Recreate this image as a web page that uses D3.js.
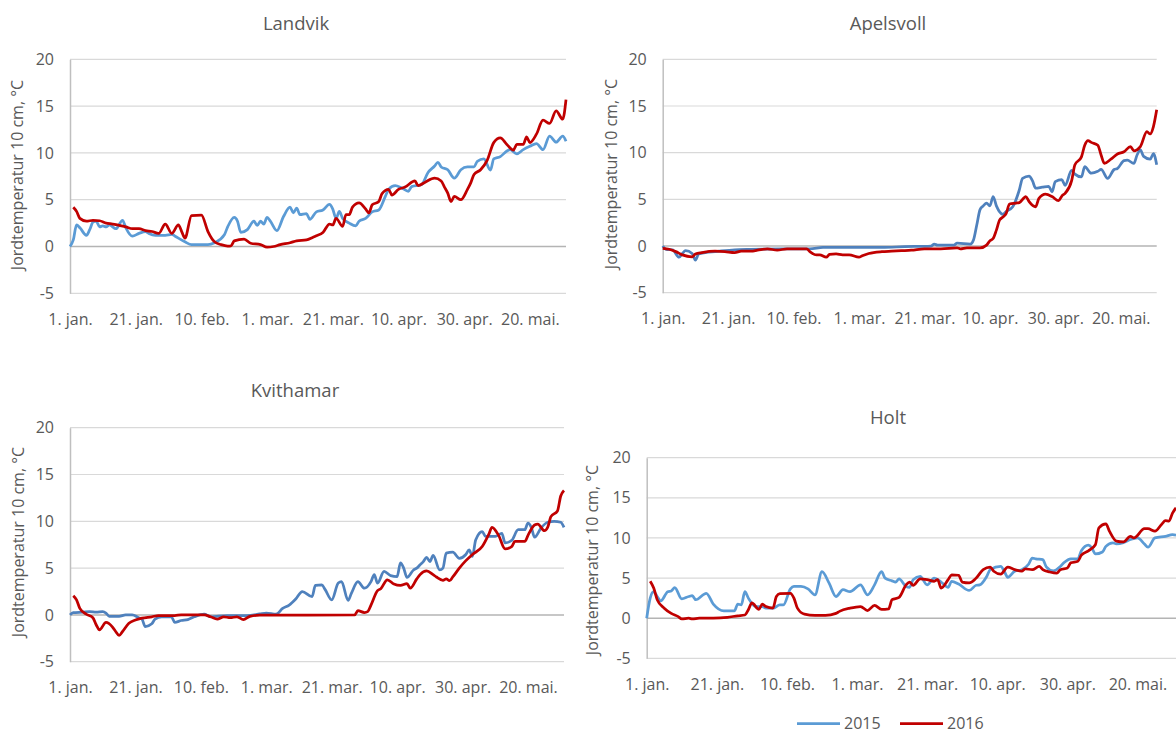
<!DOCTYPE html>
<html>
<head>
<meta charset="utf-8">
<script src="https://cdnjs.cloudflare.com/ajax/libs/d3/7.8.5/d3.min.js"></script>
<style>
   body { margin: 0; background: #fff; }
   svg text { font-family: "Open Sans", sans-serif; fill: #595959; }
   .tick-label { font-size: 16px; }
</style>
</head>
<body>
<svg id="chart" width="1176" height="734"></svg>
<script>
// day of year (0 = 1. jan.) and tick labels of the date axis
var tick_days = [0, 20, 40, 60, 80, 100, 120, 140];
var tick_labels = ["1. jan.", "21. jan.", "10. feb.", "1. mar.", "21. mar.", "10. apr.", "30. apr.", "20. mai."];
var y_ticks = [-5, 0, 5, 10, 15, 20];
var series_names = ["2015", "2016"];
var y_title = "Jordtemperatur 10 cm, \u00b0C";

// [day, temperature]
var landvik_2015 = [[0,0],[1,0.7],[2,2.3],[3,2.0],[5,1.2],[6,1.8],[7,2.6],[8,2.7],[9,2.1],[10,2.2],[11,2.1],[12,2.3],[14,1.9],[16,2.8],[17,2.0],[19,1.1],[21,1.4],[23,1.6],[24,1.4],[26,1.2],[29,1.2],[31,1.3],[32,1.1],[35,0.5],[37,0.2],[42,0.2],[44,0.4],[47,1.25],[48,2.1],[50,3.1],[51,2.7],[52,1.5],[54,1.8],[56,2.7],[57,2.25],[58,2.7],[59,2.4],[60,3.1],[61,2.7],[63,1.7],[65,3.2],[67,4.2],[68,3.6],[69,4.1],[70,3.4],[72,3.5],[73,2.9],[75,3.7],[77,3.9],[79,4.5],[80,4.0],[81,3.0],[82,3.75],[83,3.0],[85,2.5],[87,2.2],[88,2.7],[90,3.0],[92,3.7],[94,3.9],[96,5.35],[97,6.1],[99,6.5],[101,6.25],[103,5.9],[104,6.4],[107,6.6],[109,7.9],[111,8.6],[112,9.0],[113,8.5],[115,8.2],[117,7.3],[119,8.2],[121,8.5],[123,8.5],[124,9.1],[126,9.35],[128,8.15],[129,9.35],[131,9.6],[133,10.2],[134,10.35],[136,9.9],[138,10.35],[140,10.7],[142,11.0],[144,10.35],[146,11.8],[148,11.15],[150,11.8],[151,11.25]];
var landvik_2016 = [[1,4.2],[2,3.75],[3,3.0],[5,2.7],[7,2.8],[9,2.75],[11,2.5],[13,2.4],[15,2.25],[17,2.1],[19,1.9],[21,1.9],[23,1.7],[25,1.6],[27,1.4],[29,2.4],[31,1.4],[33,2.3],[34,1.6],[35,0.9],[37,3.3],[40,3.35],[42,1.6],[44,0.5],[46,0.2],[48,0.05],[49,0.07],[50,0.6],[53,0.8],[55,0.35],[58,0.2],[60,-0.07],[62,0],[64,0.2],[67,0.4],[69,0.6],[72,0.7],[74,1.0],[75,1.15],[77,1.5],[79,2.4],[80,2.3],[81,3.0],[83,2.15],[84,3.4],[85,3.4],[86,4.2],[88,4.65],[90,4.0],[91,3.6],[92,4.45],[94,4.8],[95,5.65],[97,6.1],[98,5.5],[100,6.1],[102,6.35],[105,7.0],[106,6.5],[108,6.85],[111,7.3],[113,7.0],[114,6.35],[115,5.7],[116,4.8],[117,5.35],[119,5.0],[121,6.1],[122,6.8],[123,7.7],[125,8.2],[127,9.2],[129,11.1],[131,11.6],[133,10.9],[135,10.3],[136,10.9],[138,10.9],[139,11.7],[140,11.1],[142,12.0],[144,13.5],[146,13.15],[148,14.5],[150,13.6],[151,15.7]];

var apelsvoll_2015 = [[0,0],[1,-0.35],[3,-0.4],[5,-1.2],[6,-0.8],[7,-0.5],[9,-0.8],[10,-1.5],[11,-0.85],[13,-0.7],[16,-0.6],[22,-0.4],[27,-0.35],[37,-0.3],[45,-0.3],[49,-0.15],[57,-0.15],[67,-0.15],[74,-0.07],[82,0],[83,0.2],[84,0.1],[89,0.1],[90,0.3],[94,0.2],[95,0.65],[96,2.25],[97,3.9],[98,4.3],[99,4.6],[100,4.3],[101,5.3],[102,4.3],[104,3.4],[105,3.7],[107,4.2],[109,6.0],[110,7.25],[112,7.5],[113,7.0],[114,6.2],[116,6.3],[118,6.4],[119,5.8],[120,6.9],[122,7.1],[123,6.5],[125,8.1],[126,7.7],[128,7.4],[129,8.5],[131,7.8],[133,8.0],[134,8.2],[136,7.25],[138,8.2],[139,8.3],[141,9.15],[142,9.2],[144,8.85],[145,9.75],[146,10.3],[147,9.6],[149,9.3],[150,9.9],[151,8.7]];
var apelsvoll_2016 = [[0,-0.25],[2,-0.35],[4,-0.6],[6,-0.95],[9,-1.15],[10,-0.85],[12,-0.7],[16,-0.55],[19,-0.6],[22,-0.7],[24,-0.55],[27,-0.55],[29,-0.45],[32,-0.3],[35,-0.45],[38,-0.3],[44,-0.3],[45,-0.6],[47,-0.95],[48,-0.95],[50,-1.2],[51,-0.9],[53,-0.85],[55,-0.95],[57,-0.95],[60,-1.2],[61,-1.05],[63,-0.8],[67,-0.6],[70,-0.55],[73,-0.5],[76,-0.45],[80,-0.3],[85,-0.3],[90,-0.2],[91,-0.3],[93,-0.2],[97,-0.2],[99,0.1],[100,0.55],[101,0.8],[102,1.7],[103,2.8],[104,3.1],[105,3.5],[106,4.5],[108,4.6],[109,4.65],[111,5.3],[112,4.75],[114,4.2],[115,5.1],[117,5.55],[119,5.3],[121,4.85],[122,5.35],[123,5.65],[125,7.0],[126,8.7],[128,9.55],[129,10.8],[130,11.3],[131,11.1],[133,10.8],[134,9.75],[135,8.85],[137,9.3],[139,9.85],[141,10.1],[143,10.65],[144,10.2],[146,10.65],[148,12.25],[149,12.0],[150,12.8],[151,14.6]];

var kvithamar_2015 = [[0,0],[1,0.25],[4,0.3],[6,0.35],[8,0.3],[10,0.35],[11,0.2],[12,-0.15],[15,-0.15],[17,0],[19,0],[21,-0.3],[22,-0.45],[23,-1.25],[25,-0.95],[26,-0.45],[28,-0.2],[31,-0.2],[32,-0.8],[34,-0.6],[36,-0.5],[38,-0.2],[41,0.07],[43,-0.2],[48,-0.07],[54,-0.07],[58,0.1],[60,0.2],[63,0.07],[65,0.7],[67,1.05],[69,1.7],[71,2.5],[74,1.95],[75,3.15],[77,3.2],[78,2.7],[80,1.6],[82,3.4],[83,3.55],[85,1.55],[86,2.3],[88,3.55],[90,2.85],[92,3.55],[93,4.3],[94,3.4],[96,4.65],[98,4.2],[100,4.1],[101,5.55],[102,5.0],[103,4.0],[105,4.8],[106,5.0],[107,5.35],[108,5.7],[109,6.15],[110,5.7],[111,6.35],[113,4.8],[114,5.0],[115,6.6],[117,6.7],[119,6.05],[121,6.45],[122,6.95],[123,6.25],[124,8.0],[126,8.9],[127,8.4],[130,8.4],[132,8.7],[133,7.7],[135,7.95],[137,9.1],[139,9.1],[140,9.8],[141,9.35],[142,8.3],[144,9.3],[146,9.9],[148,10.0],[150,9.9],[151,9.35]];
var kvithamar_2016 = [[1,2.05],[2,1.6],[3,0.7],[5,0.07],[7,-0.3],[8,-1.05],[9,-1.6],[11,-0.8],[13,-1.3],[14,-1.8],[15,-2.2],[16,-1.8],[18,-0.9],[20,-0.55],[22,-0.35],[25,-0.2],[27,-0.07],[32,-0.07],[34,0],[41,0],[43,-0.2],[45,-0.45],[47,-0.2],[49,-0.3],[51,-0.2],[53,-0.5],[55,-0.15],[58,-0.03],[87,0],[88,0.45],[90,0.25],[91,0.35],[92,1.05],[94,2.6],[95,2.8],[97,3.75],[99,3.3],[101,3.15],[103,3.35],[104,2.85],[106,3.85],[107,4.3],[109,4.7],[111,4.3],[112,4.05],[114,3.7],[115,3.85],[116,3.65],[117,4.05],[119,5.0],[121,5.8],[123,6.45],[126,7.3],[128,8.6],[129,9.35],[131,8.5],[133,7.05],[135,7.3],[136,7.85],[139,7.85],[140,8.5],[142,9.6],[143,9.7],[145,9.0],[146,9.35],[147,10.5],[149,11.1],[150,12.7],[151,13.3]];

var holt_2015 = [[0,0],[1,2.5],[2,3.3],[3,2.7],[4,2.15],[6,3.3],[7,3.4],[8,3.8],[10,2.4],[12,2.7],[13,2.8],[14,2.3],[17,3.1],[19,1.75],[22,0.9],[25,0.9],[26,1.75],[27,1.65],[28,3.3],[29,2.5],[31,1.45],[33,1.45],[34,1.25],[36,1.25],[38,1.65],[39,1.65],[41,3.65],[42,3.95],[44,3.95],[46,3.65],[48,2.9],[50,5.8],[52,4.4],[54,2.7],[56,3.55],[58,3.3],[61,4.15],[63,2.9],[65,4.15],[67,5.8],[68,5.0],[70,4.65],[71,4.5],[72,4.9],[74,3.95],[75,3.85],[76,4.8],[78,5.2],[80,4.15],[82,5.0],[84,4.5],[86,3.85],[87,4.6],[89,4.25],[92,3.45],[94,4.1],[95,4.15],[97,5.2],[98,6.05],[101,6.45],[102,5.85],[103,5.1],[105,5.85],[107,6.05],[109,6.75],[110,7.5],[111,7.4],[113,7.3],[114,6.4],[116,5.9],[118,6.45],[119,6.9],[121,7.4],[123,7.4],[124,8.4],[126,9.1],[127,8.75],[128,8.0],[130,8.25],[131,8.95],[133,9.4],[134,9.25],[136,9.4],[138,9.8],[140,10.0],[142,9.25],[143,8.85],[145,10.0],[148,10.2],[150,10.4],[151,10.35]];
var holt_2016 = [[1,4.6],[2,3.75],[3,2.3],[5,1.25],[7,0.6],[9,0.2],[10,-0.1],[12,0],[13,-0.1],[15,0],[19,0],[23,0.1],[26,0.3],[28,0.4],[29,1.05],[30,1.9],[32,1.1],[33,1.75],[34,1.45],[36,1.25],[37,2.7],[38,3.05],[41,3.1],[42,2.5],[43,1.25],[45,0.5],[48,0.35],[51,0.35],[54,0.6],[55,0.85],[58,1.25],[61,1.45],[63,0.95],[65,1.6],[67,1.1],[68,1.1],[69,1.15],[70,2.3],[72,2.6],[74,4.15],[75,4.5],[76,4.1],[78,4.9],[80,4.8],[82,4.6],[83,4.8],[84,3.75],[86,4.8],[87,5.4],[89,5.35],[90,4.5],[92,4.4],[94,5.0],[96,6.05],[98,6.35],[99,5.85],[101,5.5],[103,6.35],[105,6.05],[107,5.85],[108,6.15],[110,6.05],[112,6.45],[113,6.05],[115,5.75],[117,5.6],[118,6.05],[120,6.25],[121,6.9],[123,7.1],[124,7.85],[126,8.4],[128,9.15],[129,11.25],[131,11.75],[132,10.85],[134,9.6],[136,9.5],[138,10.2],[139,10.0],[142,11.15],[143,11.15],[145,10.85],[147,11.75],[148,12.15],[149,12.1],[150,13.1],[151,13.75]];

var red = "#c00000";

// one entry per chart, only layout lives here
var panels = [
   {title: "Landvik", s2015: landvik_2015, s2016: landvik_2016, blue: "#5b9bd5",
    left: 70, right: 566, top: 59.3, bottom: 293.3, title_x: 296, title_y: 30, ytitle_x: 17, ytitle_y: 175},
   {title: "Apelsvoll", s2015: apelsvoll_2015, s2016: apelsvoll_2016, blue: "#4f81bd",
    left: 662.7, right: 1156.7, top: 59.3, bottom: 292.7, title_x: 888, title_y: 30, ytitle_x: 611, ytitle_y: 174},
   {title: "Kvithamar", s2015: kvithamar_2015, s2016: kvithamar_2016, blue: "#4f81bd",
    left: 70, right: 564, top: 427.7, bottom: 661.7, title_x: 295, title_y: 397, ytitle_x: 18, ytitle_y: 542},
   {title: "Holt", s2015: holt_2015, s2016: holt_2016, blue: "#5b9bd5",
    left: 646.7, right: 1176, top: 457.7, bottom: 658.3, title_x: 888, title_y: 424, ytitle_x: 592, ytitle_y: 560}
];

/**Draws one of the four small charts: grid, axes, labels and the two year lines.
 * @param {*} svg the svg selection to draw in.
 * @param {*} p panel entry from panels.
 */
function draw_panel(svg, p) {

   var g = svg.append("g");

   var x = d3.scaleLinear()
             .domain([0, 151])
             .range([p.left, p.right]);

   var y = d3.scaleLinear()
             .domain([-5, 20])
             .range([p.bottom, p.top]);

   // horizontal gridlines
   g.append("g")
      .selectAll("line")
      .data(y_ticks.filter(function(d) { return d != 0; }))
      .join("line")
      .attr("x1", p.left)
      .attr("x2", p.right)
      .attr("y1", function(d) { return y(d); })
      .attr("y2", function(d) { return y(d); })
      .attr("stroke", "#d9d9d9")
      .attr("stroke-width", 1.2);

   // plain hyphen for negatives, like the original
   var y_axis = g.append("g")
      .attr("transform", "translate(" + p.left + ",0)")
      .call(d3.axisLeft(y).tickValues(y_ticks)
              .tickFormat(function(d) { return String(d); })
              .tickSize(0).tickPadding(16));
   y_axis.select(".domain").attr("stroke", "#bfbfbf").attr("stroke-width", 1.5);
   y_axis.selectAll("text").classed("tick-label", true);

   var x_axis = g.append("g")
      .attr("transform", "translate(0," + p.bottom + ")")
      .call(d3.axisBottom(x).tickValues(tick_days)
              .tickFormat(function(d, i) { return tick_labels[i]; })
              .tickSize(0).tickPadding(20));
   x_axis.select(".domain").remove();
   x_axis.selectAll("text").classed("tick-label", true);

   // category axis crosses at 0
   g.append("line")
      .attr("x1", p.left)
      .attr("x2", p.right)
      .attr("y1", y(0))
      .attr("y2", y(0))
      .attr("stroke", "#b4b4b4")
      .attr("stroke-width", 1.5);

   var line = d3.line()
      .x(function(d) { return x(d[0]); })
      .y(function(d) { return y(d[1]); })
      .curve(d3.curveMonotoneX);

   g.append("path")
      .datum(p.s2015)
      .attr("fill", "none")
      .attr("stroke", p.blue)
      .attr("stroke-width", 2.75)
      .attr("stroke-linejoin", "round")
      .attr("d", line);

   g.append("path")
      .datum(p.s2016)
      .attr("fill", "none")
      .attr("stroke", red)
      .attr("stroke-width", 2.75)
      .attr("stroke-linejoin", "round")
      .attr("d", line);

   g.append("text")
      .attr("x", p.title_x)
      .attr("y", p.title_y)
      .attr("text-anchor", "middle")
      .style("font-size", "18.5px")
      .text(p.title);

   g.append("text")
      .attr("transform", "translate(" + p.ytitle_x + "," + p.ytitle_y + ") rotate(-90)")
      .attr("text-anchor", "middle")
      .attr("dominant-baseline", "central")
      .style("font-size", "16px")
      .text(y_title);
}

function draw_legend(svg) {

   var items = [
      {name: series_names[0], color: "#5b9bd5", x: 797},
      {name: series_names[1], color: red, x: 900}
   ];
   var lg = svg.append("g").selectAll("g").data(items).join("g");
   lg.append("line")
      .attr("x1", function(d) { return d.x; })
      .attr("x2", function(d) { return d.x + 43; })
      .attr("y1", 723.5)
      .attr("y2", 723.5)
      .attr("stroke", function(d) { return d.color; })
      .attr("stroke-width", 2.75);
   lg.append("text")
      .attr("x", function(d) { return d.x + 47; })
      .attr("y", 729)
      .style("font-size", "16px")
      .text(function(d) { return d.name; });
}

var svg = d3.select("#chart");
panels.forEach(function(p) { draw_panel(svg, p); });
draw_legend(svg);
</script>
</body>
</html>
